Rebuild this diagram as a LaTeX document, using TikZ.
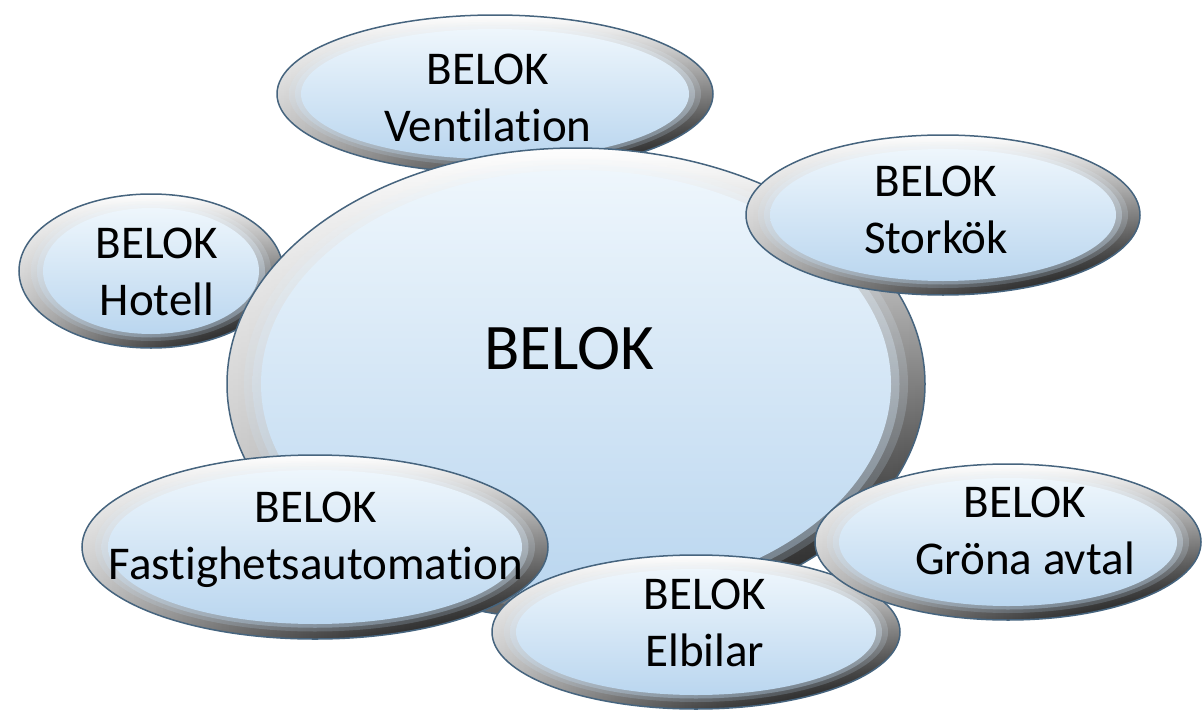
\documentclass[tikz,border=0pt]{standalone}
\usepackage{fontspec}
\setmainfont[Ligatures={NoCommon}]{Carlito}
\usetikzlibrary{shapes.geometric,fadings,calc}

\definecolor{ringline}{HTML}{46647E}
\definecolor{innertop}{HTML}{EEF6FC}
\definecolor{innerbot}{HTML}{BAD6EF}

\tikzfading[name=topglow, top color=transparent!0, middle color=transparent!100, bottom color=transparent!100]
\tikzfading[name=darkright, left color=transparent!100, middle color=transparent!100, right color=transparent!0]

\newcommand\bubinner[2]{%
  \shade[top color=innertop, bottom color=innerbot, opacity=#2]
   let \p1=(path picture bounding box.north east), \p2=(path picture bounding box.center),
       \n1={\x1-\x2-#1*\ringx pt}, \n2={\y1-\y2-#1*\ringy pt} in
   (path picture bounding box.center) ellipse [x radius=\n1, y radius=\n2];}

\tikzset{
  ringx/.store in=\ringx, ringy/.store in=\ringy, ringx=24, ringy=14,
  bub/.style={ellipse, inner sep=0pt, outer sep=0pt, draw=ringline, line width=1.5pt,
    left color=black!30, right color=black!55,
    path picture={
      \fill[black, path fading=darkright] (path picture bounding box.south west) rectangle (path picture bounding box.north east);
      \fill[white, path fading=topglow] (path picture bounding box.south west) rectangle (path picture bounding box.north east);
      \bubinner{0.5}{0.2}
      \bubinner{0.75}{0.35}
      \bubinner{1}{1}
    }},
  txt/.style={align=center, inner sep=0pt, font=\fontsize{47}{57}\selectfont},
  bigtxt/.style={inner sep=0pt, font=\fontsize{65}{78}\selectfont}
}

\begin{document}
\begin{tikzpicture}[x=1pt, y=-1pt]
\useasboundingbox (0,0) rectangle (1202,712);

\node[bub, minimum width=436, minimum height=158] (vent) at (495,94) {};
\node[bub, minimum width=264, minimum height=154] (hotell) at (151,271) {};
\node[bub, ringx=34, ringy=22, minimum width=698, minimum height=472] (belok) at (576,384) {};
\node[bub, minimum width=394, minimum height=160] (stork) at (943,215) {};
\node[bub, minimum width=408, minimum height=154] (elbil) at (696,632) {};
\node[bub, ringx=26, ringy=15, minimum width=466, minimum height=184] (fast) at (315,547) {};
\node[bub, minimum width=386, minimum height=156] (grona) at (1008,542) {};

\node[txt] (ventT) at (488,97.5) {BELOK\\Ventilation};
\node[txt] (hotellT) at (157,272) {BELOK\\Hotell};
\node[bigtxt] (belokT) at (569,349) {BELOK};
\node[txt] (storkT) at (936,210) {BELOK\\Storkök};
\node[txt] (elbilT) at (705,623) {BELOK\\Elbilar};
\node[txt] (fastT) at (316,540) {BELOK\\Fastighetsautomation};
\node[txt] (gronaT) at (1025,531) {BELOK\\Gröna avtal};
\end{tikzpicture}
\end{document}
